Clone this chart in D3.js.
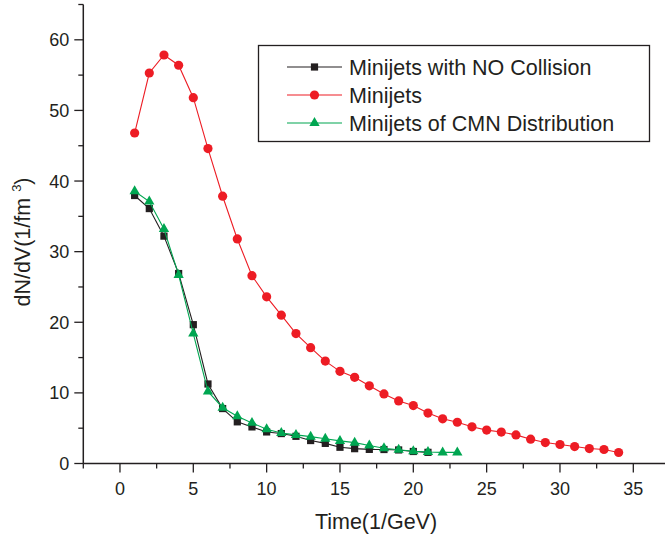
<!DOCTYPE html>
<html><head><meta charset="utf-8">
<script src="https://cdn.jsdelivr.net/npm/d3@7"></script>
<style>body{margin:0;background:#fff}svg{display:block}text{font-family:"Liberation Sans",Arial,sans-serif;fill:#231F20}</style>
</head><body>
<script>
const xNoColl = d3.range(1, 22);
const noCollision = [37.95,36.1,32.2,26.9,19.66,11.26,7.78,5.9,5.18,4.47,4.24,3.85,3.25,2.85,2.3,2.1,2.0,1.98,1.92,1.7,1.58];
const xMinijets = d3.range(1, 35);
const minijets = [46.8,55.3,57.85,56.4,51.8,44.6,37.85,31.8,26.6,23.6,21.0,18.4,16.4,14.5,13.05,12.2,11.0,9.85,8.86,8.2,7.14,6.33,5.84,5.2,4.73,4.45,4.05,3.44,2.97,2.69,2.4,2.12,1.98,1.56];
const xCMN = d3.range(1, 24);
const cmn = [38.56,37.1,33.2,26.7,18.4,10.2,7.9,6.7,5.75,4.85,4.33,4.05,3.8,3.5,3.2,2.95,2.54,2.16,1.95,1.74,1.62,1.57,1.57];
const xTicks = [0,5,10,15,20,25,30,35];
const yTicks = [0,10,20,30,40,50,60];
const seriesNames = ["Minijets with NO Collision","Minijets","Minijets of CMN Distribution"];

const W=665,H=539;
const svg=d3.select("body").append("svg").attr("width",W).attr("height",H);
const x=d3.scaleLinear().domain([-2.5,37.5]).range([83.3,83.3+40*14.667]);
const y=d3.scaleLinear().domain([0,65]).range([463.5,4.5]);
const ink="#231F20";

// axes
const xAxis=svg.append("g").attr("transform",`translate(0,${y(0)})`);
xAxis.append("line").attr("x1",x(-2.5)).attr("x2",W+10).attr("stroke",ink).attr("stroke-width",1.5);
const xMinor=d3.range(-2.5,38,2.5).filter(v=>!xTicks.includes(v));
xAxis.selectAll(".mx").data(xMinor).join("line").attr("x1",d=>x(d)).attr("x2",d=>x(d)).attr("y1",0).attr("y2",5).attr("stroke",ink).attr("stroke-width",1.3);
xAxis.selectAll(".Mx").data(xTicks).join("line").attr("x1",d=>x(d)).attr("x2",d=>x(d)).attr("y1",0).attr("y2",9).attr("stroke",ink).attr("stroke-width",1.3);
xAxis.selectAll(".tx").data(xTicks).join("text").attr("x",d=>x(d)).attr("y",31).attr("text-anchor","middle").attr("font-size",18).text(d=>d);

const yAxis=svg.append("g").attr("transform",`translate(${x(-2.5)},0)`);
yAxis.append("line").attr("y1",y(0)).attr("y2",y(65)).attr("stroke",ink).attr("stroke-width",1.5);
const yMinor=d3.range(5,66,10);
yAxis.selectAll(".my").data(yMinor).join("line").attr("y1",d=>y(d)).attr("y2",d=>y(d)).attr("x1",0).attr("x2",-5).attr("stroke",ink).attr("stroke-width",1.3);
yAxis.selectAll(".My").data(yTicks).join("line").attr("y1",d=>y(d)).attr("y2",d=>y(d)).attr("x1",0).attr("x2",-9).attr("stroke",ink).attr("stroke-width",1.3);
yAxis.selectAll(".ty").data(yTicks).join("text").attr("x",-14).attr("y",d=>y(d)+6.5).attr("text-anchor","end").attr("font-size",18).text(d=>d);

svg.append("text").attr("x",376).attr("y",529).attr("text-anchor","middle").attr("font-size",21.5).text("Time(1/GeV)");
const yl=svg.append("text").attr("transform","translate(30,242) rotate(-90)").attr("text-anchor","middle").attr("font-size",21.5);
yl.append("tspan").text("dN/dV(1/fm ");
yl.append("tspan").attr("font-size",13).attr("dy",-9).text("3");
yl.append("tspan").attr("dy",9).text(")");

const colors=["#231F20","#ED1C24","#00A651"];
const series=[{xs:xNoColl,ys:noCollision,c:colors[0],m:"sq"},{xs:xMinijets,ys:minijets,c:colors[1],m:"ci"},{xs:xCMN,ys:cmn,c:colors[2],m:"tr"}];
const line=d3.line().x(d=>x(d[0])).y(d=>y(d[1]));
function marker(g,m,c){
  if(m==="sq") g.append("rect").attr("x",-3.6).attr("y",-3.6).attr("width",7.2).attr("height",7.2).attr("fill",c);
  else if(m==="ci") g.append("circle").attr("r",4.6).attr("fill",c);
  else g.append("path").attr("d",d3.symbol(d3.symbolTriangle,46)()).attr("fill",c);
}
series.forEach(s=>{
  const pts=s.xs.map((v,i)=>[v,s.ys[i]]);
  svg.append("path").attr("d",line(pts)).attr("fill","none").attr("stroke",s.c).attr("stroke-width",1.1);
  svg.append("g").selectAll("g").data(pts).join("g").attr("transform",d=>`translate(${x(d[0])},${y(d[1])})`).each(function(){marker(d3.select(this),s.m,s.c);});
});

// legend
const lg=svg.append("g");
lg.append("rect").attr("x",258.5).attr("y",45.5).attr("width",391).attr("height",96).attr("fill","#fff").attr("stroke",ink).attr("stroke-width",1.3);
series.forEach((s,i)=>{
  const yy=67+i*28;
  lg.append("line").attr("x1",287).attr("x2",342).attr("y1",yy).attr("y2",yy).attr("stroke",s.c).attr("stroke-width",1.1);
  const g=lg.append("g").attr("transform",`translate(314.5,${yy})`);marker(g,s.m,s.c);
  lg.append("text").attr("x",349).attr("y",yy+7.5).attr("font-size",21.5).text(seriesNames[i]);
});
</script>
</body></html>
